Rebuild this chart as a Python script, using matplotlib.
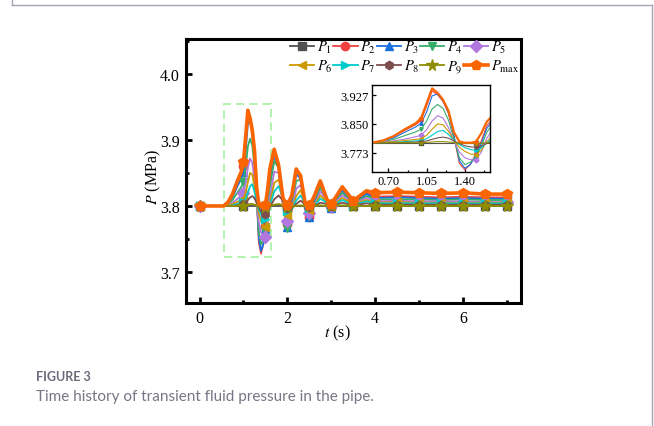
import matplotlib
matplotlib.use('Agg')
import matplotlib.pyplot as plt
from matplotlib.patches import Rectangle
from matplotlib.lines import Line2D
from matplotlib.ticker import MultipleLocator, FormatStrFormatter

plt.rcParams['font.family'] = 'serif'
plt.rcParams['font.serif'] = ['Liberation Serif', 'DejaVu Serif']
plt.rcParams['mathtext.fontset'] = 'stix'

# time (s)
t = [0.0, 0.55, 0.65, 0.75, 0.85, 0.95, 1.0, 1.05, 1.1, 1.15, 1.2, 1.25, 1.3, 1.35,
     1.4, 1.45, 1.5, 1.55, 1.6, 1.7, 1.8, 1.9, 2.0, 2.1, 2.2, 2.3, 2.4, 2.5, 2.6,
     2.75, 2.9, 3.0, 3.25, 3.5, 3.8, 4.0, 4.5, 5.0, 5.5, 6.0, 6.5, 7.0]

# pressure (MPa) at each point
p1 = [3.800, 3.800, 3.800, 3.800, 3.800, 3.800, 3.800, 3.800, 3.800, 3.800, 3.800,
      3.800, 3.800, 3.800, 3.800, 3.800, 3.800, 3.800, 3.800, 3.800, 3.800, 3.800,
      3.800, 3.800, 3.800, 3.800, 3.800, 3.800, 3.800, 3.800, 3.800, 3.800, 3.800,
      3.800, 3.800, 3.800, 3.800, 3.800, 3.800, 3.800, 3.800, 3.800]
p2 = [3.800, 3.800, 3.805, 3.816, 3.833, 3.848, 3.860, 3.898, 3.938, 3.928, 3.910,
      3.878, 3.815, 3.745, 3.728, 3.742, 3.770, 3.805, 3.845, 3.880, 3.855, 3.800,
      3.772, 3.808, 3.852, 3.840, 3.795, 3.784, 3.808, 3.835, 3.806, 3.797, 3.826,
      3.804, 3.820, 3.814, 3.815, 3.814, 3.813, 3.814, 3.813, 3.813]
p3 = [3.800, 3.800, 3.804, 3.813, 3.828, 3.842, 3.852, 3.882, 3.925, 3.930, 3.912,
      3.880, 3.820, 3.752, 3.732, 3.742, 3.765, 3.798, 3.838, 3.876, 3.858, 3.803,
      3.768, 3.800, 3.848, 3.842, 3.797, 3.783, 3.804, 3.833, 3.807, 3.797, 3.824,
      3.804, 3.818, 3.812, 3.813, 3.812, 3.811, 3.812, 3.811, 3.811]
p4 = [3.800, 3.800, 3.803, 3.809, 3.819, 3.829, 3.836, 3.858, 3.890, 3.902, 3.892,
      3.860, 3.810, 3.760, 3.742, 3.748, 3.762, 3.790, 3.828, 3.868, 3.858, 3.808,
      3.767, 3.795, 3.838, 3.840, 3.800, 3.785, 3.800, 3.828, 3.808, 3.798, 3.820,
      3.804, 3.815, 3.810, 3.810, 3.810, 3.809, 3.810, 3.809, 3.809]
p5 = [3.800, 3.800, 3.802, 3.805, 3.810, 3.816, 3.820, 3.835, 3.858, 3.872, 3.866,
      3.840, 3.805, 3.775, 3.760, 3.755, 3.753, 3.775, 3.812, 3.852, 3.850, 3.812,
      3.778, 3.792, 3.826, 3.832, 3.803, 3.790, 3.798, 3.822, 3.808, 3.800, 3.816,
      3.804, 3.812, 3.807, 3.808, 3.807, 3.807, 3.807, 3.806, 3.806]
p6 = [3.800, 3.800, 3.801, 3.803, 3.806, 3.809, 3.811, 3.820, 3.836, 3.850, 3.848,
      3.830, 3.806, 3.788, 3.777, 3.770, 3.768, 3.780, 3.803, 3.835, 3.840, 3.812,
      3.787, 3.793, 3.815, 3.824, 3.804, 3.794, 3.798, 3.816, 3.806, 3.800, 3.812,
      3.803, 3.809, 3.805, 3.806, 3.805, 3.805, 3.805, 3.805, 3.805]
p7 = [3.800, 3.800, 3.800, 3.801, 3.803, 3.805, 3.806, 3.811, 3.820, 3.830, 3.833,
      3.822, 3.806, 3.795, 3.787, 3.782, 3.780, 3.786, 3.800, 3.822, 3.830, 3.812,
      3.793, 3.795, 3.808, 3.816, 3.804, 3.797, 3.799, 3.811, 3.805, 3.800, 3.809,
      3.802, 3.807, 3.804, 3.804, 3.804, 3.804, 3.804, 3.804, 3.804]
p8 = [3.800, 3.800, 3.800, 3.800, 3.801, 3.802, 3.803, 3.805, 3.809, 3.813, 3.815,
      3.812, 3.805, 3.798, 3.792, 3.789, 3.788, 3.791, 3.798, 3.810, 3.816, 3.808,
      3.797, 3.797, 3.803, 3.808, 3.803, 3.799, 3.799, 3.805, 3.803, 3.800, 3.805,
      3.801, 3.804, 3.802, 3.802, 3.802, 3.802, 3.802, 3.802, 3.802]
p9 = [3.800, 3.800, 3.800, 3.800, 3.800, 3.800, 3.800, 3.801, 3.802, 3.803, 3.803,
      3.802, 3.801, 3.799, 3.798, 3.798, 3.798, 3.799, 3.800, 3.802, 3.803, 3.801,
      3.799, 3.799, 3.800, 3.801, 3.800, 3.800, 3.800, 3.801, 3.800, 3.800, 3.801,
      3.800, 3.800, 3.800, 3.800, 3.800, 3.800, 3.800, 3.800, 3.800]
pmax = [3.800, 3.800, 3.806, 3.818, 3.836, 3.852, 3.866, 3.905, 3.945, 3.933, 3.915,
        3.885, 3.828, 3.803, 3.800, 3.800, 3.802, 3.825, 3.856, 3.886, 3.862, 3.812,
        3.801, 3.816, 3.856, 3.846, 3.806, 3.801, 3.813, 3.838, 3.810, 3.803, 3.829,
        3.808, 3.823, 3.820, 3.821, 3.820, 3.819, 3.820, 3.818, 3.818]

series = [p1, p2, p3, p4, p5, p6, p7, p8, p9, pmax]
labels = [r'$P_1$', r'$P_2$', r'$P_3$', r'$P_4$', r'$P_5$', r'$P_6$', r'$P_7$',
          r'$P_8$', r'$P_9$', r'$P_{\rm max}$']
colors = ['#515151', '#F14040', '#1A6FDF', '#37AD6B', '#B177DE', '#CC9900',
          '#00CBCC', '#7D4E4E', '#8E8E00', '#FB6501']
markers = ['s', 'o', '^', 'v', 'D', '<', '>', 'h', '*', 'p']

# zoomed window (inset + dashed box)
zoom_x = (0.55, 1.63)
zoom_y = (3.722, 3.954)

# marker every 0.5 s after the start
mk = [i for i, v in enumerate(t) if v == 0 or (v >= 1 and (v * 2) % 1 == 0)]

W, H = 654, 427
fig = plt.figure(figsize=(W / 100, H / 100), dpi=100)

# page frame
for xs, ys in [([12, 12], [0, 6]), ([12, 652], [6, 6]), ([652, 652], [6, 427])]:
    fig.add_artist(Line2D([x / W for x in xs], [1 - y / H for y in ys],
                          color='#a4a4b4', lw=1.0))

ax = fig.add_axes([185.5 / W, 1 - 304 / H, (521 - 185.5) / W, (304 - 40) / H])
handles = []
for i, p in enumerate(series):
    big = i == 9
    h, = ax.plot(t, p, color=colors[i], lw=2.6 if big else 1.3, marker=markers[i],
                 markevery=mk, ms=(7.5 if big else (8.5 if markers[i] == '*' else 6)),
                 mec=colors[i], label=labels[i])
    handles.append(h)

ax.add_patch(Rectangle((zoom_x[0], zoom_y[0]), zoom_x[1] - zoom_x[0],
                       zoom_y[1] - zoom_y[0], fill=False, ec='#a6f0a0',
                       ls=(0, (5, 3)), lw=1.2))

ax.set_xlim(-0.32, 7.32)
ax.set_ylim(3.653, 4.053)
ax.xaxis.set_major_locator(MultipleLocator(2))
ax.xaxis.set_minor_locator(MultipleLocator(1))
ax.yaxis.set_major_locator(MultipleLocator(0.1))
ax.yaxis.set_minor_locator(MultipleLocator(0.05))
ax.yaxis.set_major_formatter(FormatStrFormatter('%.1f'))
ax.tick_params(which='both', direction='in', width=2, labelsize=11.5)
ax.tick_params(which='major', length=4.5)
ax.tick_params(which='minor', length=2.5)
ax.tick_params(axis='x', pad=5)
ax.tick_params(axis='y', pad=4)
for s in ax.spines.values():
    s.set_linewidth(2.2)
ax.set_xlabel(r'$t$ (s)', fontsize=11.5)
ax.set_ylabel(r'$P$ (MPa)', fontsize=11.5)
ax.xaxis.set_label_coords(0.452, -0.075)
ax.yaxis.set_label_coords(-0.068, 0.48)

# legend filled row by row (5 per row)
order = [0, 5, 1, 6, 2, 7, 3, 8, 4, 9]
ax.legend([handles[k] for k in order], [labels[k] for k in order], ncol=5,
          loc='upper left', bbox_to_anchor=(290 / W, 1 - 40 / H),
          bbox_transform=fig.transFigure, frameon=False, fontsize=10.5,
          handlelength=1.65, handletextpad=0.2, columnspacing=0.05,
          labelspacing=0.22, borderpad=0, borderaxespad=0)

axin = fig.add_axes([372 / W, 1 - 173 / H, 118 / W, 87 / H])
for i, p in enumerate(series):
    axin.plot(t, p, color=colors[i], lw=1.6 if i == 9 else 0.8,
              marker=markers[i], markevery=mk, ms=2.5, mec=colors[i])
axin.set_xlim(*zoom_x)
axin.set_ylim(*zoom_y)
axin.set_xticks([0.70, 1.05, 1.40])
axin.set_yticks([3.773, 3.850, 3.927])
axin.xaxis.set_minor_locator(MultipleLocator(0.175))
axin.xaxis.set_major_formatter(FormatStrFormatter('%.2f'))
axin.yaxis.set_major_formatter(FormatStrFormatter('%.3f'))
axin.tick_params(which='both', direction='in', width=0.9, labelsize=9, pad=2.5)
axin.tick_params(which='major', length=3)
axin.tick_params(which='minor', length=1.8)
for s in axin.spines.values():
    s.set_linewidth(1.0)

fig.text(36 / W, 1 - 381.5 / H, 'FIGURE 3', family='Lato', weight='bold',
         fontsize=9, color='#6a6a7a')
fig.text(36 / W, 1 - 401 / H, 'Time history of transient fluid pressure in the pipe.',
         family='Lato', fontsize=11, color='#767686')

fig.savefig('out.png', dpi=100)
